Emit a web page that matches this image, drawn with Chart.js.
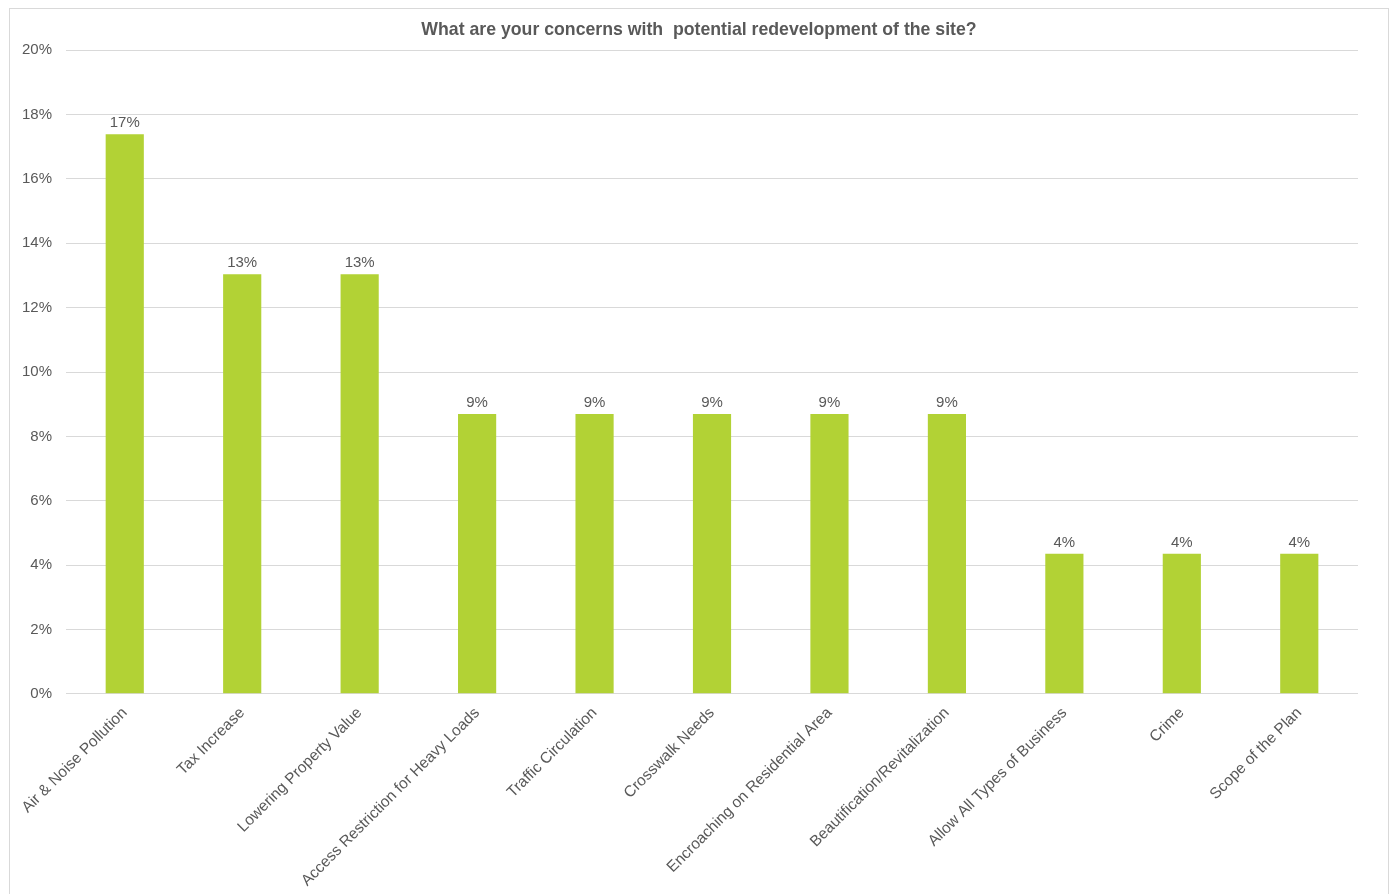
<!DOCTYPE html>
<html>
<head>
<meta charset="utf-8">
<script src="https://cdn.jsdelivr.net/npm/chart.js@4/dist/chart.umd.min.js"></script>
<style>
  html, body { margin: 0; padding: 0; background: #fff; }
  #frame { position: absolute; left: 9px; top: 8px; width: 1380px; height: 900px; border: 1px solid #d9d9d9; box-sizing: border-box; }
  #wrap { position: absolute; left: 0; top: 0; width: 1390px; height: 894px; }
</style>
</head>
<body>
<div id="frame"></div>
<div id="wrap"><canvas id="chart"></canvas></div>
<script>
// Survey responses (share of 23 answers)
const categories = [
  "Air & Noise Pollution",
  "Tax Increase",
  "Lowering Property Value",
  "Access Restriction for Heavy Loads",
  "Traffic Circulation",
  "Crosswalk Needs",
  "Encroaching on Residential Area",
  "Beautification/Revitalization",
  "Allow All Types of Business",
  "Crime",
  "Scope of the Plan"
];
const shares = [17.39, 13.04, 13.04, 8.70, 8.70, 8.70, 8.70, 8.70, 4.35, 4.35, 4.35];
const yTicks = [0, 2, 4, 6, 8, 10, 12, 14, 16, 18, 20];

const textColor = "#595959";
const fontFamily = "'Liberation Sans', Arial, sans-serif";

// Writes the rounded percentage above each bar
const valueLabels = {
  id: "valueLabels",
  afterDatasetsDraw(chart) {
    const ctx = chart.ctx;
    const meta = chart.getDatasetMeta(0);
    ctx.save();
    ctx.font = "15px " + fontFamily;
    ctx.fillStyle = textColor;
    ctx.textAlign = "center";
    ctx.textBaseline = "bottom";
    meta.data.forEach((bar, i) => {
      ctx.fillText(Math.round(shares[i]) + "%", bar.x, bar.y - 4);
    });
    ctx.restore();
  }
};

// Centres the title on the full canvas rather than on the padded box
const centreTitle = {
  id: "centreTitle",
  afterLayout(chart) {
    const t = chart.titleBlock;
    if (!t) return;
    const shift = chart.width / 2 - (t.left + t.right) / 2 + 4;
    t.left += shift;
    t.right += shift;
  }
};

new Chart(document.getElementById("chart"), {
  type: "bar",
  data: {
    labels: categories,
    datasets: [{
      data: shares,
      backgroundColor: "#b2d235",
      borderWidth: 0,
      barPercentage: 1,
      categoryPercentage: 0.325
    }]
  },
  options: {
    responsive: true,
    maintainAspectRatio: false,
    animation: false,
    layout: { padding: { left: 8, right: 32, top: 0, bottom: 2 } },
    plugins: {
      legend: { display: false },
      tooltip: { enabled: false },
      title: {
        display: true,
        text: "What are your concerns with  potential redevelopment of the site?",
        color: textColor,
        font: { family: fontFamily, size: 17.7, weight: "bold" },
        padding: { top: 19, bottom: 10 }
      }
    },
    scales: {
      x: {
        grid: { display: false },
        border: { display: false },
        ticks: {
          color: textColor,
          font: { family: fontFamily, size: 15.5 },
          maxRotation: 45,
          minRotation: 45,
          autoSkip: false,
          padding: 2
        }
      },
      y: {
        min: 0,
        max: 20,
        afterBuildTicks(scale) {
          scale.ticks = yTicks.map(v => ({ value: v }));
        },
        grid: { color: "#d9d9d9", drawTicks: false },
        border: { display: false },
        ticks: {
          color: textColor,
          font: { family: fontFamily, size: 15 },
          padding: 14,
          callback: v => v + "%"
        }
      }
    }
  },
  plugins: [valueLabels, centreTitle]
});
</script>
</body>
</html>
